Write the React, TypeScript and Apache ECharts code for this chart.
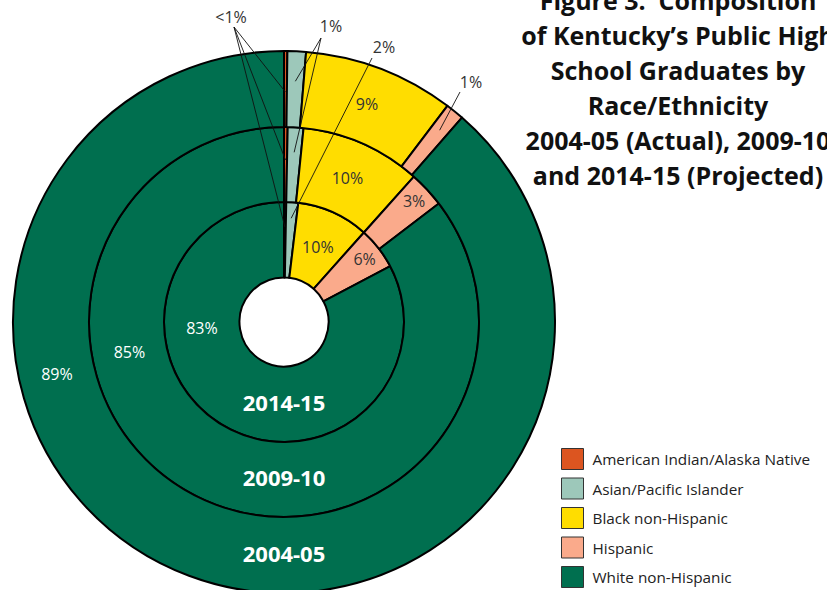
import React, { useEffect, useRef } from "react";
import * as echarts from "echarts";

const categories = [
  "American Indian/Alaska Native",
  "Asian/Pacific Islander",
  "Black non-Hispanic",
  "Hispanic",
  "White non-Hispanic",
];
const colors = ["#DC5520", "#9DC8BA", "#FFDD00", "#FAAA8B", "#006F4F"];
const years = ["2014-15", "2009-10", "2004-05"];
const values2014 = [0.3, 1.6, 9.7, 5.7, 82.7];
const values2009 = [0.3, 1.3, 10.0, 3.0, 85.4];
const values2004 = [0.2, 1.1, 9.0, 1.1, 88.6];
const ringValues = [values2014, values2009, values2004];
const titleLines = [
  "Figure 3.  Composition",
  "of Kentucky\u2019s Public High",
  "School Graduates by",
  "Race/Ethnicity",
  "2004-05 (Actual), 2009-10",
  "and 2014-15 (Projected)",
];

const CX = 284;
const CY = 322;
const RADII = [
  [44.5, 120],
  [120, 195],
  [195, 271],
];
const FONT = "'Open Sans', 'Noto Sans', sans-serif";

function pctLabel(v: number) {
  return v < 1 ? "<1%" : Math.round(v) + "%";
}
function sliceMid(vals: number[], i: number) {
  const total = vals.reduce((a, b) => a + b, 0);
  let start = 0;
  for (let k = 0; k < i; k++) start += vals[k];
  return (start + vals[i] / 2) / total;
}
function polar(frac: number, r: number): [number, number] {
  const a = frac * Math.PI * 2;
  return [CX + r * Math.sin(a), CY - r * Math.cos(a)];
}
function polarDeg(deg: number, r: number): [number, number] {
  const a = (deg * Math.PI) / 180;
  return [CX + r * Math.sin(a), CY - r * Math.cos(a)];
}

export default function App() {
  const ref = useRef<HTMLDivElement>(null);
  useEffect(() => {
    if (!ref.current) return;
    const chart = echarts.init(ref.current, undefined, { renderer: "svg" });

    const series = ringValues.map((vals, ri) => ({
      type: "pie",
      name: years[ri],
      center: [CX, CY],
      radius: RADII[ri],
      startAngle: 90,
      clockwise: true,
      silent: true,
      z: 1,
      avoidLabelOverlap: false,
      label: { show: false },
      labelLine: { show: false },
      itemStyle: { borderColor: "#000", borderWidth: 2 },
      data: categories.map((c, i) => ({
        name: c,
        value: vals[i],
        itemStyle: { color: colors[i] },
      })),
    }));

    const graphics: any[] = [];
    const text = (x: number, y: number, t: string, fill: string, size: number, weight = "normal", align = "center") =>
      graphics.push({
        type: "text",
        x,
        y,
        z: 100,
        silent: true,
        style: {
          text: t,
          fill,
          font: `${weight} ${size}px ${FONT}`,
          textAlign: align,
          textVerticalAlign: "middle",
        },
      });
    const line = (x1: number, y1: number, x2: number, y2: number) =>
      graphics.push({
        type: "line",
        z: 100,
        silent: true,
        shape: { x1, y1, x2, y2 },
        style: { stroke: "#111", lineWidth: 0.9 },
      });

    // inside labels for Black and Hispanic
    ringValues.forEach((vals, ri) => {
      const mid = (RADII[ri][0] + RADII[ri][1]) / 2;
      const [bx, by] = polar(sliceMid(vals, 2), mid);
      text(bx, by, pctLabel(vals[2]), "#333", 16);
      if (ri < 2) {
        const [hx, hy] = polar(sliceMid(vals, 3), mid + 20);
        text(hx, hy, pctLabel(vals[3]), "#333", 16);
      }
    });
    // White labels on the left, year labels at the bottom
    const whiteAngles = [266, 259, 257];
    ringValues.forEach((vals, ri) => {
      const mid = (RADII[ri][0] + RADII[ri][1]) / 2;
      const [x, y] = polarDeg(whiteAngles[ri], mid);
      text(x, y, pctLabel(vals[4]), "#fff", 16);
      const [yx, yy] = polarDeg(180, mid - 2.5);
      text(yx, yy, years[ri], "#fff", 22, "bold");
    });
    // leader labels: American Indian (<1%) in all rings
    const aiR = [95, 162, 230];
    text(231, 17, pctLabel(values2004[0]), "#333", 16);
    ringValues.forEach((vals, ri) => {
      const [x, y] = polar(sliceMid(vals, 0), aiR[ri]);
      line(234, 27, x, y);
    });
    // Asian 1% (outer and middle)
    text(331, 26, pctLabel(values2004[1]), "#333", 16);
    {
      const [x1, y1] = polar(sliceMid(values2004, 1), 241);
      line(321, 38, x1, y1);
      const [x2, y2] = polar(sliceMid(values2009, 1), 170);
      line(321, 38, x2, y2);
    }
    // Asian 2% (inner)
    text(384, 47, pctLabel(values2014[1]), "#333", 16);
    {
      const [x, y] = polar(sliceMid(values2014, 1), 104);
      line(372, 58, x, y);
    }
    // Hispanic 1% (outer)
    text(471, 82, pctLabel(values2004[3]), "#333", 16);
    {
      const [x, y] = polar(sliceMid(values2004, 3), 247);
      line(460, 92, x, y);
    }
    // title
    titleLines.forEach((t, i) => text(678, 0 + i * 35, t, "#111", 25, "bold"));

    chart.setOption({
      animation: false,
      backgroundColor: "#fff",
      legend: {
        orient: "vertical",
        left: 561,
        top: 448,
        padding: 0,
        itemWidth: 22,
        itemHeight: 21,
        itemGap: 7.5,
        icon: "rect",
        selectedMode: false,
        data: categories,
        itemStyle: { borderColor: "#333", borderWidth: 1 },
        textStyle: { fontFamily: FONT, fontSize: 15.3, color: "#222", padding: [0, 0, 0, 4] },
      },
      series,
      graphic: { elements: graphics },
    });
    return () => chart.dispose();
  }, []);
  return (
    <div
      ref={ref}
      style={{ position: "fixed", left: 0, top: 0, width: 827, height: 590, background: "#fff" }}
    />
  );
}
